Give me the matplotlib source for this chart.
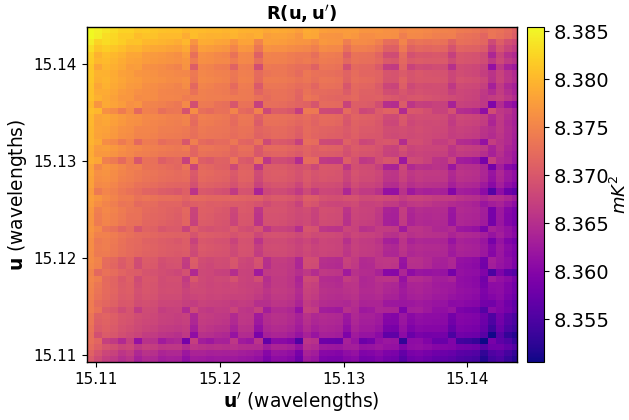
import numpy as np
import matplotlib
matplotlib.use("Agg")
import matplotlib.pyplot as plt

# Values estimated by eye from the reference. The 54x54 cells are rebuilt from
# per-row and per-column profiles read off the picture, so single cells are approximate.
base_level = 8.3785
u_start_x = 15.10915
u_start_y = 15.10922
du_x = 0.00065
du_y = 0.000642

col_trend = [.0033,.0026,.002,.0014,.0007,.0002,-.0001,-.0003,-.0005,-.0007,-.0009,-.001,-.0012,-.0013,
             -.0014,-.0016,-.0017,-.0019,-.002,-.0022,-.0023,-.0025,-.0026,-.0028,-.0029,-.0031,-.0032,
             -.0034,-.0035,-.0037,-.0039,-.0041,-.0043,-.0045,-.0047,-.0049,-.0051,-.0053,-.0055,-.0057,
             -.0059,-.0061,-.0063,-.0065,-.0067,-.0069,-.0072,-.0075,-.0077,-.0079,-.0081,-.0085,-.0092,-.0102]
row_trend = [.004,.0036,.003,.0018,.0008,.0003,.0001,-.0001,-.0003,-.0004,-.0006,-.0008,-.001,-.0012,
             -.0014,-.0015,-.0017,-.0019,-.0021,-.0023,-.0025,-.0027,-.0029,-.0031,-.0033,-.0035,-.0037,
             -.0039,-.0041,-.0043,-.0045,-.0047,-.0049,-.0051,-.0053,-.0055,-.0057,-.0059,-.0061,-.0063,
             -.0065,-.0067,-.0069,-.0071,-.0073,-.0075,-.0077,-.0079,-.0082,-.0085,-.0089,-.0094,-.0102,-.0112]
col_A = [0,0,.45,.45,.6,.25,.8,.35,.35,.6,.45,.4,1.0,0,.5,.55,.4,.4,.05,.45,.5,0,1.0,.6,.6,.65,1.1,
         0,0,.8,.8,.8,.1,.3,.7,.6,.25,.1,.1,1.1,.2,.2,.3,.5,.5,.2,.8,.8,.85,1.3,.1,.4,.4,.5]
col_B = [.1,.45,.1,.1,.1,.2,.1,.3,.3,.3,.35,.4,.1,1.0,.3,.3,.4,.4,.8,.3,.3,1.1,.3,.3,.3,.35,.4,
         .4,.6,.2,.2,.2,.8,.3,.3,.3,.5,1.0,1.0,.2,.8,.6,.6,.5,.5,1.0,.4,.4,.4,.5,1.4,.6,.9,.9]
row_A = [.18,.28,0,0,.03,.08,.03,.23,.08,.08,.23,.33,0,1.0,.08,.08,.23,.23,.8,.08,.18,1.1,.08,.18,.18,.28,.28,
         .28,.4,.08,.08,.08,.7,.13,.13,.13,.13,.7,.7,.18,.65,.5,.4,.4,.4,.8,.28,.28,.28,.28,1.5,.5,.7,.7]
row_B = [.1,.05,.55,.6,.8,.5,1.0,.5,.5,.75,.55,.3,1.1,0,.5,.55,.4,.4,.1,.5,.5,0,1.0,.6,.6,.7,1.2,
         .15,.35,.8,.8,.8,.2,.4,.7,.5,.5,.1,.1,1.0,.1,.3,.3,.35,.5,.2,.8,.8,.9,1.2,.2,.3,.5,.5]
band_depth = 0.0065
x_ticks = [15.11, 15.12, 15.13, 15.14]
cbar_ticks = [8.355, 8.360, 8.365, 8.370, 8.375, 8.380, 8.385]

R = (base_level + np.add.outer(np.array(row_trend), np.array(col_trend))
     - band_depth * np.outer(row_A, col_A) - band_depth * np.outer(row_B, col_B))
x_edges = u_start_x + du_x * np.arange(len(col_trend) + 1)
y_edges = u_start_y + du_y * np.arange(len(row_trend) + 1)

W, H = 629, 420
fig = plt.figure(figsize=(W / 100, H / 100), dpi=100)
ax = fig.add_axes([86.7 / W, 1 - 362.3 / H, (516.7 - 86.7) / W, (362.3 - 26.7) / H])
mesh = ax.pcolormesh(x_edges, y_edges, R[::-1], cmap="plasma", vmin=8.3505, vmax=8.3855,
                     shading="flat", rasterized=True)
ax.set_xlim(15.10925, 15.14398)
ax.set_ylim(15.10925, 15.14390)
ax.set_xticks(x_ticks)
ax.set_yticks(x_ticks)
ax.set_xticklabels([f"{t:.2f}" for t in x_ticks])
ax.set_yticklabels([f"{t:.2f}" for t in x_ticks])
ax.tick_params(labelsize=11)
for s in ax.spines.values():
    s.set_linewidth(1.0)
ax.set_xlabel(r"$\mathbf{u}'$ (wavelengths)", fontsize=13.4, labelpad=2)
ax.set_ylabel(r"$\mathbf{u}$ (wavelengths)", fontsize=13.4, labelpad=3)
ax.set_title(r"$\mathbf{R(u,u')}$", fontsize=13, pad=5)

cax = fig.add_axes([526.7 / W, 1 - 362.3 / H, (543.7 - 526.7) / W, (362.3 - 26.7) / H])
cb = fig.colorbar(mesh, cax=cax)
cb.set_ticks(cbar_ticks)
cb.set_ticklabels([f"{t:.3f}" for t in cbar_ticks])
cb.ax.tick_params(labelsize=14)
cb.set_label(r"$mK^2$", fontsize=13, labelpad=0)
fig.savefig("out.png", dpi=100)
